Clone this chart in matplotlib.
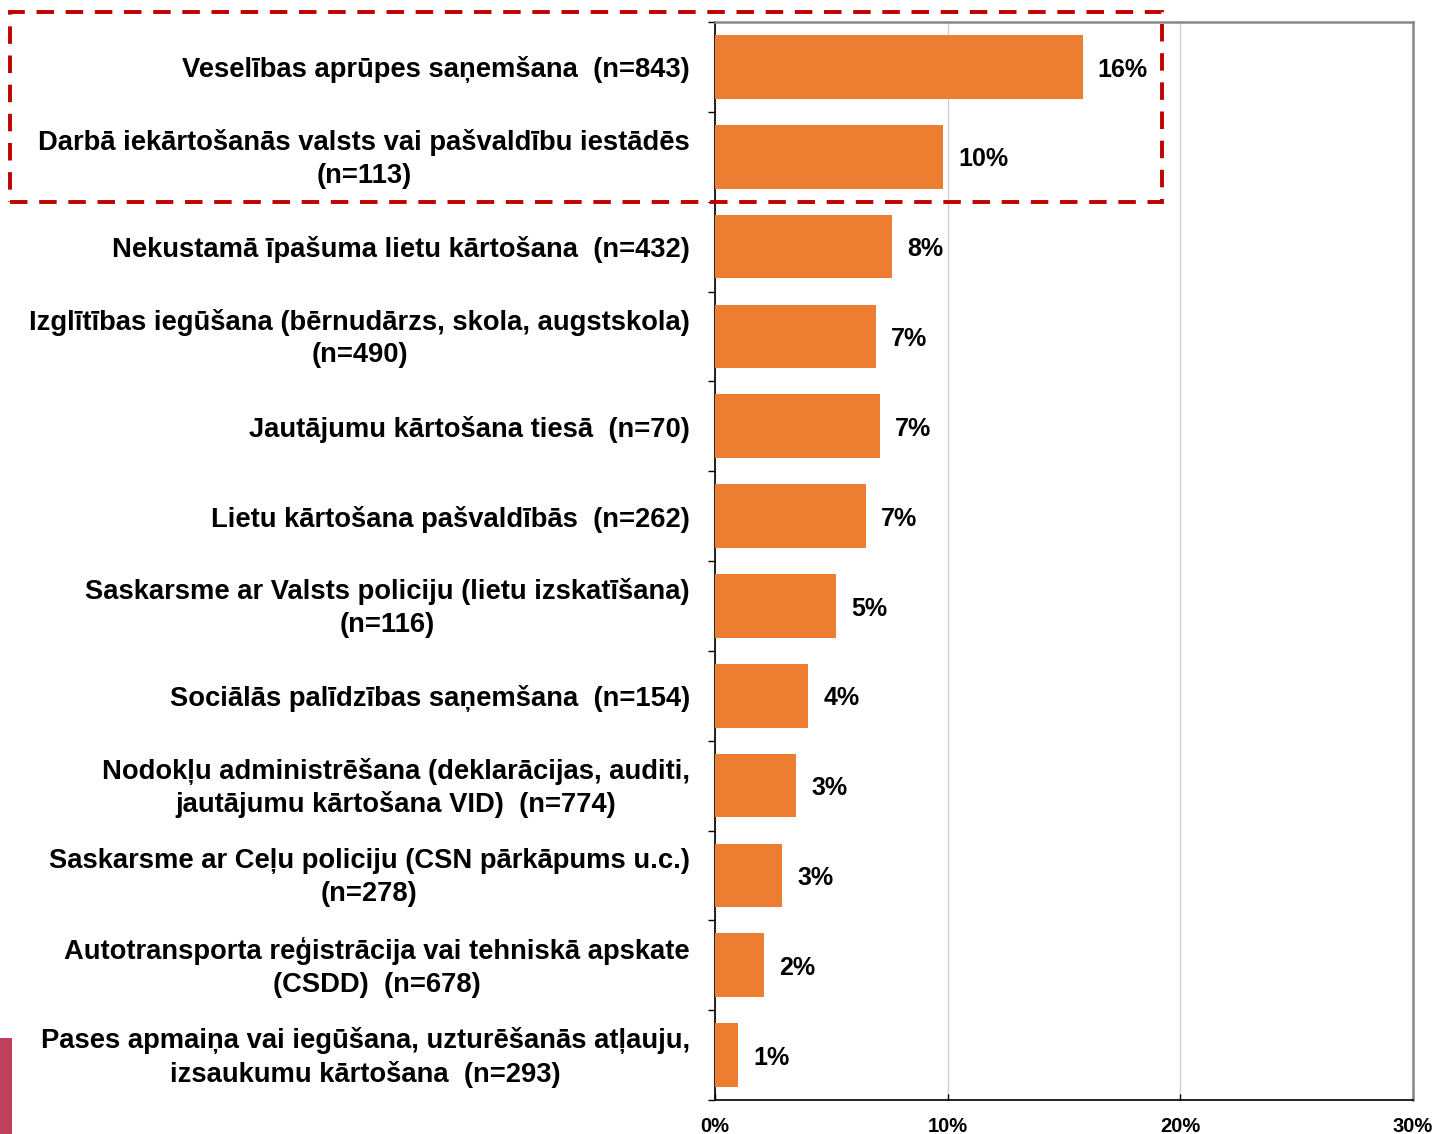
import matplotlib
matplotlib.use("Agg")
import matplotlib.pyplot as plt
import matplotlib.patches as mpatches
import matplotlib.transforms as mtransforms
import numpy as np

plt.rcParams['font.family'] = ['Liberation Sans', 'DejaVu Sans']

categories = [
    "Veselības aprūpes saņemšana  (n=843)",
    "Darbā iekārtošanās valsts vai pašvaldību iestādēs\n(n=113)",
    "Nekustamā īpašuma lietu kārtošana  (n=432)",
    "Izglītības iegūšana (bērnudārzs, skola, augstskola)\n(n=490)",
    "Jautājumu kārtošana tiesā  (n=70)",
    "Lietu kārtošana pašvaldībās  (n=262)",
    "Saskarsme ar Valsts policiju (lietu izskatīšana)\n(n=116)",
    "Sociālās palīdzības saņemšana  (n=154)",
    "Nodokļu administrēšana (deklarācijas, auditi,\njautājumu kārtošana VID)  (n=774)",
    "Saskarsme ar Ceļu policiju (CSN pārkāpums u.c.)\n(n=278)",
    "Autotransporta reģistrācija vai tehniskā apskate\n(CSDD)  (n=678)",
    "Pases apmaiņa vai iegūšana, uzturēšanās atļauju,\nizsaukumu kārtošana  (n=293)",
]
values = [15.8, 9.8, 7.6, 6.9, 7.1, 6.5, 5.2, 4.0, 3.5, 2.9, 2.1, 1.0]
value_labels = ["16%", "10%", "8%", "7%", "7%", "7%", "5%", "4%", "3%", "3%", "2%", "1%"]
x_ticks = [0, 10, 20, 30]
x_ticklabels = ["0%", "10%", "20%", "30%"]

fig = plt.figure(figsize=(14.35, 11.34), dpi=100)
ax = fig.add_axes([715/1435, 1 - 1100/1134, 698/1435, 1078/1134])

y = np.arange(len(categories))
ax.barh(y, values, height=0.71, color="#ED7D31", zorder=3)
for yi, v, lab in zip(y, values, value_labels):
    ax.text(v + 0.65, yi + 0.03, lab, va="center", ha="left", fontsize=18, fontweight="bold")

ax.set_xlim(0, 30)
ax.set_ylim(len(categories) - 0.5, -0.5)
ax.set_xticks(x_ticks)
ax.set_xticklabels(x_ticklabels, fontsize=14.5, fontweight="bold")
ax.set_yticks(y)
ax.set_yticklabels(categories, fontsize=19.7, fontweight="bold", linespacing=1.32,
                   multialignment="center")
ax.set_yticks(np.arange(-0.5, len(categories)), minor=True)
ax.tick_params(axis="y", which="major", length=0, pad=18)
ax.tick_params(axis="y", which="minor", length=5, width=1, color="black", direction="out")
ax.tick_params(axis="x", which="major", length=4, width=1, direction="in", pad=12)
ax.xaxis.grid(True, color="#D0D0D0", linewidth=1, zorder=0)

# two-line labels sit a little high in the original
shift = mtransforms.ScaledTranslation(0, 4/100, fig.dpi_scale_trans)
for t in ax.get_yticklabels():
    if "\n" in t.get_text():
        t.set_transform(t.get_transform() + shift)

for s in ["left", "bottom"]:
    ax.spines[s].set_color("black")
    ax.spines[s].set_linewidth(1.2)
for s in ["top", "right"]:
    ax.spines[s].set_color("#888888")
    ax.spines[s].set_linewidth(1.8)

# highlight box around first two rows
box = mpatches.Rectangle((10/1435, 1 - 202/1134), 1152/1435, 190/1134,
                         transform=fig.transFigure, fill=False, edgecolor="#C00000",
                         linewidth=2.8, linestyle=(0, (4.5, 3)), clip_on=False, zorder=5)
fig.patches.append(box)

# crimson bar in bottom-left corner
fig.patches.append(mpatches.Rectangle((0, 0), 12/1435, 96/1134, transform=fig.transFigure,
                                      facecolor="#C0405A", edgecolor="none"))

fig.savefig("out.png", dpi=100)
